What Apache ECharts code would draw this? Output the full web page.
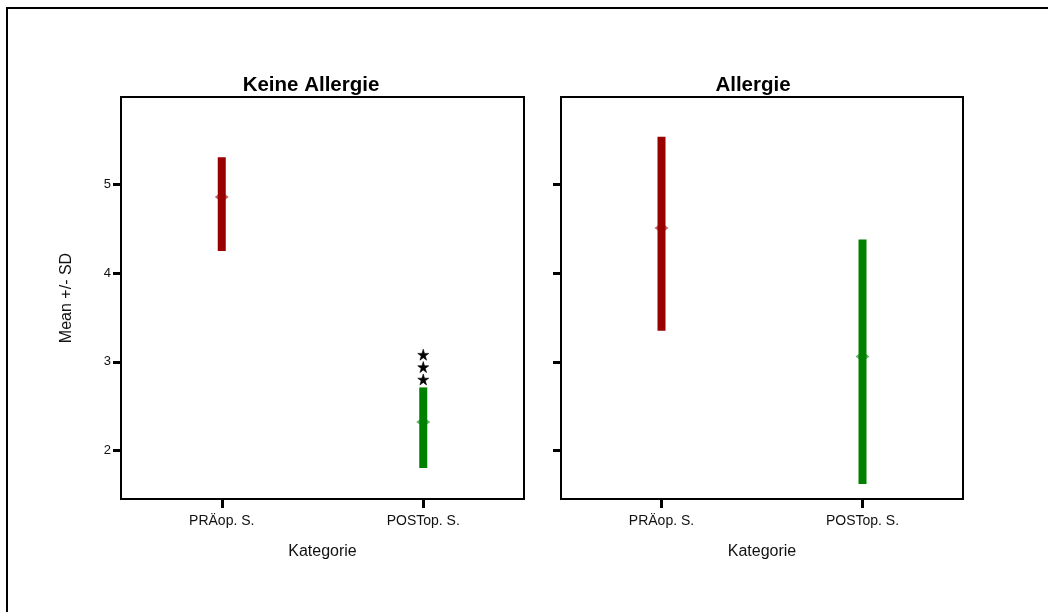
<!DOCTYPE html>
<html>
<head>
<meta charset="utf-8">
<script src="https://cdn.jsdelivr.net/npm/echarts@6/dist/echarts.min.js"></script>
<style>
  html, body { margin: 0; padding: 0; background: #fff; }
  #chart { width: 1048px; height: 612px; }
</style>
</head>
<body>
<div id="chart"></div>
<script>
// Categories and panel titles
var categories = ['PRÄop. S.', 'POSTop. S.'];
var panelTitles = ['Keine Allergie', 'Allergie'];

// Mean and mean ± SD per category, group without allergy
var keineMean = [4.86, 2.32];
var keineLow  = [4.25, 1.80];
var keineHigh = [5.31, 2.71];

// Mean and mean ± SD per category, group with allergy
var allergieMean = [4.51, 3.06];
var allergieLow  = [3.35, 1.62];
var allergieHigh = [5.54, 4.38];

// Significance stars above the post-op bar (no allergy)
var starCategory = 'POSTop. S.';
var starValues = [2.80, 2.94, 3.08];

// Y axis
var yTicks = [2, 3, 4, 5];
var yMin = 1.45, yMax = 5.99;

var barColors = ['#990000', '#008000'];
var FONT = 'Liberation Sans, Arial, sans-serif';

function rows(mean, low, high) {
  return categories.map(function (c, i) { return [i, low[i], high[i], mean[i]]; });
}

// Vertical SD bar with a small mean marker across it
function renderRange(params, api) {
  var idx = api.value(0);
  var low = api.coord([idx, api.value(1)]);
  var high = api.coord([idx, api.value(2)]);
  var mid = api.coord([idx, api.value(3)]);
  var color = barColors[idx];
  var w = 8;
  return {
    type: 'group',
    children: [
      { type: 'rect', shape: { x: low[0] - w / 2, y: high[1], width: w, height: low[1] - high[1] },
        style: { fill: color } },
      { type: 'polygon', shape: { points: [[mid[0] - 7, mid[1]], [mid[0] - 3, mid[1] - 3], [mid[0] + 3, mid[1] - 3], [mid[0] + 7, mid[1]], [mid[0] + 3, mid[1] + 3], [mid[0] - 3, mid[1] + 3]] },
        style: { fill: color, opacity: 0.6 } }
    ]
  };
}

function xAxis(gridIndex) {
  return {
    type: 'category', gridIndex: gridIndex, data: categories,
    boundaryGap: true,
    axisLine: { show: true, lineStyle: { color: '#000', width: 2 } },
    axisTick: { show: true, alignWithLabel: true, length: 9, lineStyle: { color: '#000', width: 3 } },
    axisLabel: { color: '#111', fontSize: 14, fontFamily: FONT, margin: 15 },
    name: 'Kategorie', nameLocation: 'middle', nameGap: 45,
    nameTextStyle: { color: '#111', fontSize: 16, fontFamily: FONT },
    splitLine: { show: false }
  };
}

function yAxis(gridIndex, withLabels) {
  var ax = {
    type: 'value', gridIndex: gridIndex, min: yMin, max: yMax,
    axisLine: { show: true, lineStyle: { color: '#000', width: 2 } },
    axisTick: { show: true, length: 8, customValues: yTicks, lineStyle: { color: '#000', width: 3 } },
    axisLabel: { show: withLabels, customValues: yTicks, color: '#111', fontSize: 13, fontFamily: FONT, margin: 10 },
    splitLine: { show: false }
  };
  if (withLabels) {
    ax.name = 'Mean +/- SD';
    ax.nameLocation = 'middle';
    ax.nameGap = 46;
    ax.nameRotate = 90;
    ax.nameTextStyle = { color: '#111', fontSize: 16, fontFamily: FONT };
  }
  return ax;
}

var chart = echarts.init(document.getElementById('chart'), null, { renderer: 'canvas' });
chart.setOption({
  animation: false,
  backgroundColor: '#fff',
  graphic: [
    { type: 'rect', shape: { x: 7, y: 8, width: 1200, height: 800 },
      style: { fill: 'none', stroke: '#000', lineWidth: 2 }, silent: true }
  ],
  title: [
    { text: panelTitles[0], left: 306, top: 70, textAlign: 'center',
      textStyle: { fontSize: 20.5, fontWeight: 'bold', color: '#000', fontFamily: FONT } },
    { text: panelTitles[1], left: 748, top: 70, textAlign: 'center',
      textStyle: { fontSize: 20.5, fontWeight: 'bold', color: '#000', fontFamily: FONT } }
  ],
  grid: [
    { left: 121, top: 97, width: 403, height: 402, show: true, borderColor: '#000', borderWidth: 2, containLabel: false },
    { left: 561, top: 97, width: 402, height: 402, show: true, borderColor: '#000', borderWidth: 2, containLabel: false }
  ],
  xAxis: [xAxis(0), xAxis(1)],
  yAxis: [yAxis(0, true), yAxis(1, false)],
  series: [
    { type: 'custom', xAxisIndex: 0, yAxisIndex: 0, renderItem: renderRange,
      encode: { x: 0, y: [1, 2, 3] }, data: rows(keineMean, keineLow, keineHigh) },
    { type: 'custom', xAxisIndex: 1, yAxisIndex: 1, renderItem: renderRange,
      encode: { x: 0, y: [1, 2, 3] }, data: rows(allergieMean, allergieLow, allergieHigh) },
    { type: 'scatter', xAxisIndex: 0, yAxisIndex: 0,
      symbol: 'path://M50,0 L61,35 L98,35 L68,57 L79,91 L50,70 L21,91 L32,57 L2,35 L39,35 Z',
      symbolSize: 11, itemStyle: { color: '#000', borderColor: '#000', borderWidth: 0.6, opacity: 1 },
      data: starValues.map(function (v) { return [starCategory, v]; }) }
  ]
});
</script>
</body>
</html>
